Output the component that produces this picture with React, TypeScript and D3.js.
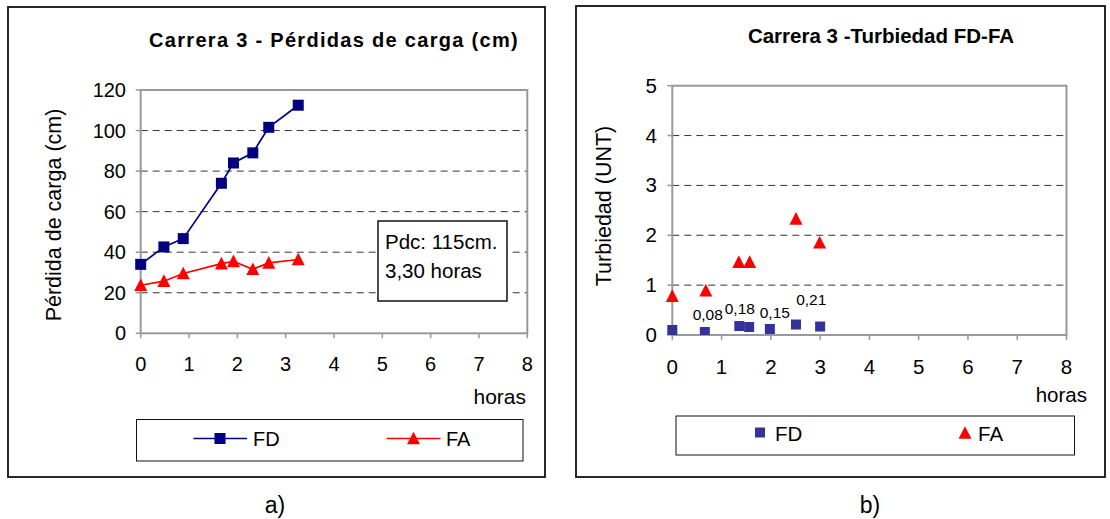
import React from "react";
import * as d3 from "d3";

// ---------- Data: chart a) Pérdidas de carga ----------
const lossHours = [0, 0.48, 0.88, 1.67, 1.92, 2.32, 2.65, 3.26];
const lossFD = [34, 42.6, 46.7, 74, 84, 89, 101.6, 112.5];
const lossFA = [23.7, 25.7, 29.5, 34.4, 35.5, 31.6, 34.7, 36.4];
const lossYTicks = [0, 20, 40, 60, 80, 100, 120];
const hourTicks = [0, 1, 2, 3, 4, 5, 6, 7, 8];

// ---------- Data: chart b) Turbiedad ----------
const turbHoursFD = [0, 0.66, 1.36, 1.56, 1.98, 2.51, 3.0];
const turbFD = [0.1, 0.06, 0.18, 0.16, 0.12, 0.21, 0.17];
const turbHoursFA = [0, 0.68, 1.35, 1.57, 2.51, 2.99];
const turbFA = [0.78, 0.89, 1.46, 1.46, 2.33, 1.85];
const turbYTicks = [0, 1, 2, 3, 4, 5];
const turbLabelText = ["0,08", "0,18", "0,15", "0,21"];
const turbLabelX = [0.72, 1.37, 2.08, 2.82];
const turbLabelY = [0.3, 0.42, 0.35, 0.6];

const FONT = "'Liberation Sans', Arial, sans-serif";
const NAVY = "#000080";
const BLUE = "#333399";
const RED = "#FF0000";
const GRID = "#333";
const AXIS = "#999";

function Triangle({ cx, cy, s, fill }: { cx: number; cy: number; s: number; fill: string }) {
  const h = s * 0.9;
  return (
    <path
      d={`M${cx},${cy - h / 2 - 1}L${cx + s / 2},${cy + h / 2}L${cx - s / 2},${cy + h / 2}Z`}
      fill={fill}
    />
  );
}

function ChartA() {
  const x = d3.scaleLinear().domain([0, 8]).range([140.7, 527.3]);
  const y = d3.scaleLinear().domain([0, 120]).range([333.3, 90]);
  const line = d3
    .line<number>()
    .x((_, i) => x(lossHours[i]))
    .y((d) => y(d));
  return (
    <g>
      <rect x={8} y={7} width={537} height={470} fill="white" stroke="#111" strokeWidth={1.8} />
      <text
        x={334}
        y={47}
        textAnchor="middle"
        fontFamily={FONT}
        fontWeight="bold"
        fontSize={20}
        letterSpacing={1.3}
      >
        Carrera 3 - Pérdidas de carga (cm)
      </text>
      {/* grid */}
      {lossYTicks
        .filter((t) => t > 0 && t < 120)
        .map((t) => (
          <line
            key={t}
            x1={x(0)}
            x2={x(8)}
            y1={y(t)}
            y2={y(t)}
            stroke={GRID}
            strokeWidth={1}
            strokeDasharray="7,5"
          />
        ))}
      <rect x={x(0)} y={y(120)} width={x(8) - x(0)} height={y(0) - y(120)} fill="none" stroke={AXIS} strokeWidth={2} />
      {/* y ticks */}
      {lossYTicks.map((t) => (
        <g key={t}>
          <line x1={x(0) - 5} x2={x(0)} y1={y(t)} y2={y(t)} stroke={AXIS} strokeWidth={1.5} />
          <text x={126} y={y(t) + 7} textAnchor="end" fontFamily={FONT} fontSize={20}>
            {t}
          </text>
        </g>
      ))}
      {hourTicks.map((t) => (
        <g key={t}>
          <line x1={x(t)} x2={x(t)} y1={y(0)} y2={y(0) + 5} stroke={AXIS} strokeWidth={1.5} />
          <text x={x(t)} y={371} textAnchor="middle" fontFamily={FONT} fontSize={20}>
            {t}
          </text>
        </g>
      ))}
      <text
        transform={`translate(61,215) rotate(-90)`}
        textAnchor="middle"
        fontFamily={FONT}
        fontSize={21.5}
      >
        Pérdida de carga (cm)
      </text>
      <text x={526} y={404} textAnchor="end" fontFamily={FONT} fontSize={21}>
        horas
      </text>
      {/* annotation box */}
      <rect x={378} y={221} width={129} height={80} fill="white" stroke="#111" strokeWidth={1.5} />
      <text x={385} y={249} fontFamily={FONT} fontSize={20.5}>
        Pdc: 115cm.
      </text>
      <text x={385} y={278} fontFamily={FONT} fontSize={20.5}>
        3,30 horas
      </text>
      {/* series */}
      <path d={line(lossFA) || ""} fill="none" stroke={RED} strokeWidth={1.7} />
      <path d={line(lossFD) || ""} fill="none" stroke={NAVY} strokeWidth={1.7} />
      {lossFD.map((v, i) => (
        <rect key={i} x={x(lossHours[i]) - 5.5} y={y(v) - 5.5} width={11} height={11} fill={NAVY} />
      ))}
      {lossFA.map((v, i) => (
        <Triangle key={i} cx={x(lossHours[i])} cy={y(v)} s={13} fill={RED} />
      ))}
      {/* legend */}
      <rect x={136.5} y={419.5} width={386.5} height={41.5} fill="white" stroke="#111" strokeWidth={1} />
      <line x1={193.5} x2={247} y1={438.5} y2={438.5} stroke={NAVY} strokeWidth={1.7} />
      <rect x={214.5} y={433} width={11} height={11} fill={NAVY} />
      <text x={253} y={446} fontFamily={FONT} fontSize={20}>
        FD
      </text>
      <line x1={386.5} x2={440.5} y1={438.5} y2={438.5} stroke={RED} strokeWidth={1.7} />
      <Triangle cx={413.5} cy={438.5} s={13} fill={RED} />
      <text x={446} y={446} fontFamily={FONT} fontSize={20}>
        FA
      </text>
      <text x={275} y={513} textAnchor="middle" fontFamily={FONT} fontSize={23}>
        a)
      </text>
    </g>
  );
}

function ChartB() {
  const x = d3.scaleLinear().domain([0, 8]).range([672.3, 1066.5]);
  const y = d3.scaleLinear().domain([0, 5]).range([335, 85.7]);
  return (
    <g>
      <rect x={576} y={6} width={529} height={471} fill="white" stroke="#111" strokeWidth={1.8} />
      <defs>
        <clipPath id="plotB">
          <rect x={x(0) - 8} y={y(5)} width={x(8) - x(0) + 8} height={y(0) - y(5)} />
        </clipPath>
      </defs>
      <text x={881} y={43} textAnchor="middle" fontFamily={FONT} fontWeight="bold" fontSize={20.5}>
        Carrera 3 -Turbiedad FD-FA
      </text>
      {turbYTicks
        .filter((t) => t > 0 && t < 5)
        .map((t) => (
          <line
            key={t}
            x1={x(0)}
            x2={x(8)}
            y1={y(t)}
            y2={y(t)}
            stroke={GRID}
            strokeWidth={1}
            strokeDasharray="7,5"
          />
        ))}
      <rect x={x(0)} y={y(5)} width={x(8) - x(0)} height={y(0) - y(5)} fill="none" stroke={AXIS} strokeWidth={2} />
      {turbYTicks.map((t) => (
        <g key={t}>
          <line x1={x(0) - 5} x2={x(0)} y1={y(t)} y2={y(t)} stroke={AXIS} strokeWidth={1.5} />
          <text x={657} y={y(t) + 7} textAnchor="end" fontFamily={FONT} fontSize={20.5}>
            {t}
          </text>
        </g>
      ))}
      {hourTicks.map((t) => (
        <g key={t}>
          <line x1={x(t)} x2={x(t)} y1={y(0)} y2={y(0) + 5} stroke={AXIS} strokeWidth={1.5} />
          <text x={x(t)} y={374} textAnchor="middle" fontFamily={FONT} fontSize={20.5}>
            {t}
          </text>
        </g>
      ))}
      <text
        transform={`translate(611,206) rotate(-90)`}
        textAnchor="middle"
        fontFamily={FONT}
        fontSize={21.5}
      >
        Turbiedad (UNT)
      </text>
      <text x={1087} y={402} textAnchor="end" fontFamily={FONT} fontSize={20.5}>
        horas
      </text>
      <g clipPath="url(#plotB)">
        {turbFD.map((v, i) => (
          <rect key={i} x={x(turbHoursFD[i]) - 5} y={y(v) - 5} width={10} height={10} fill={BLUE} />
        ))}
      </g>
      {turbFA.map((v, i) => (
        <Triangle key={i} cx={x(turbHoursFA[i])} cy={y(v)} s={13} fill={RED} />
      ))}
      {turbLabelText.map((t, i) => (
        <text
          key={i}
          x={x(turbLabelX[i])}
          y={y(turbLabelY[i])}
          textAnchor="middle"
          fontFamily={FONT}
          fontSize={15.5}
        >
          {t}
        </text>
      ))}
      {/* legend */}
      <rect x={676} y={416} width={398.5} height={39} fill="white" stroke="#111" strokeWidth={1} />
      <rect x={755} y={427.5} width={10} height={10} fill={BLUE} />
      <text x={775} y={440.5} fontFamily={FONT} fontSize={20.5}>
        FD
      </text>
      <Triangle cx={965} cy={433} s={13} fill={RED} />
      <text x={978} y={440.5} fontFamily={FONT} fontSize={20.5}>
        FA
      </text>
      <text x={870} y={513} textAnchor="middle" fontFamily={FONT} fontSize={23}>
        b)
      </text>
    </g>
  );
}

export default function App() {
  return (
    <svg
      width={1110}
      height={519}
      style={{ position: "absolute", left: 0, top: 0, background: "white" }}
    >
      <rect width={1110} height={519} fill="white" />
      <ChartA />
      <ChartB />
    </svg>
  );
}
